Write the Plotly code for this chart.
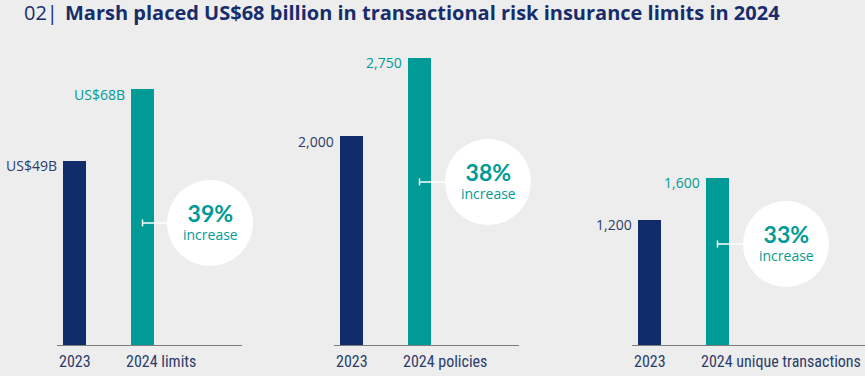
import plotly.graph_objects as go

# ---- data ----
panel_names = ["limits", "policies", "unique transactions"]
cat_2023 = ["2023", "2023", "2023"]
cat_2024 = ["2024 limits", "2024 policies", "2024 unique transactions"]
values_2023 = [49, 2000, 1200]
values_2024 = [68, 2750, 1600]
labels_2023 = ["US$49B", "2,000", "1,200"]
labels_2024 = ["US$68B", "2,750", "1,600"]
increase_pct = ["39%", "38%", "33%"]

# ---- style / layout ----
W, H = 865, 376
BG = "#ededed"
NAVY = "#112c6b"
TEAL = "#009b96"
TITLE_NAVY = "#172d6b"
LABEL_NAVY = "#2c3c6a"
AXIS_GRAY = "#7d7d7d"

BASE_Y = 345           # baseline pixel
TOP_Y = 40             # top of plot area pixel
PLOT_H = BASE_Y - TOP_Y
PX_PER_X = 68.0
LEFT_PAD = 17.5
BAR_W_PX = 23

panel_px = [(57, 242), (334, 519), (632, 865)]
px_per_y = [3.76, 0.1044, 0.1044]
circle_px = [(210, 223), (488, 182), (786, 244)]
R = 43

CAT_FONT = "Liberation Sans Narrow, Roboto Condensed, Roboto"

fig = go.Figure()
for i in range(3):
    ax = "" if i == 0 else str(i + 1)
    fig.add_trace(go.Bar(
        x=[0, 1], y=[values_2023[i], values_2024[i]],
        marker=dict(color=[NAVY, TEAL], line=dict(width=0)),
        width=BAR_W_PX / PX_PER_X,
        xaxis="x" + ax, yaxis="y" + ax,
        hoverinfo="skip", showlegend=False,
    ))
    x0p, x1p = panel_px[i]
    wpx = x1p - x0p
    fig.layout["xaxis" + ax] = dict(
        domain=[x0p / W, x1p / W],
        range=[-LEFT_PAD / PX_PER_X, (wpx - LEFT_PAD) / PX_PER_X],
        showline=True, linecolor=AXIS_GRAY, linewidth=1,
        showgrid=False, zeroline=False, showticklabels=False, ticks="",
        anchor="y" + ax, fixedrange=True,
    )
    fig.layout["yaxis" + ax] = dict(
        domain=[0, 1], range=[0, PLOT_H / px_per_y[i]],
        showline=False, showgrid=False, zeroline=False,
        showticklabels=False, ticks="", anchor="x" + ax, fixedrange=True,
    )
    xr, yr = "x" + ax, "y" + ax
    half = BAR_W_PX / PX_PER_X / 2
    # value labels
    fig.add_annotation(x=0 - half, y=values_2023[i], xref=xr, yref=yr,
                       text=labels_2023[i], showarrow=False, xanchor="right",
                       yanchor="middle", xshift=-4, yshift=-5,
                       font=dict(family="Open Sans", size=14, color=LABEL_NAVY))
    fig.add_annotation(x=1 - half, y=values_2024[i], xref=xr, yref=yr,
                       text=labels_2024[i], showarrow=False, xanchor="right",
                       yanchor="middle", xshift=-4, yshift=-5,
                       font=dict(family="Open Sans", size=14, color=TEAL))
    # category labels
    fig.add_annotation(x=0, y=0, xref=xr, yref=yr, text=cat_2023[i],
                       showarrow=False, xanchor="center", yanchor="middle",
                       yshift=-16,
                       font=dict(family=CAT_FONT, size=16, color=LABEL_NAVY))
    fig.add_annotation(x=1 - half, y=0, xref=xr, yref=yr, text=cat_2024[i],
                       showarrow=False, xanchor="left", yanchor="middle",
                       xshift=-7, yshift=-16,
                       font=dict(family=CAT_FONT, size=16, color=LABEL_NAVY))
    # circle (paper refs so it is not clipped) + bracket
    cpx, cpy = circle_px[i]
    cxp = cpx / W
    cyp = (BASE_Y - cpy) / PLOT_H
    fig.add_shape(type="circle", xref="paper", yref="paper", xsizemode="pixel",
                  ysizemode="pixel", xanchor=cxp, yanchor=cyp,
                  x0=-R, x1=R, y0=-R, y1=R,
                  fillcolor="white", line=dict(width=0), layer="above")
    yc = (BASE_Y - cpy) / px_per_y[i]
    cx_data = (cpx - x0p - LEFT_PAD) / PX_PER_X
    fig.add_shape(type="line", xref=xr, yref=yr, x0=1, x1=cx_data - R / PX_PER_X,
                  y0=yc, y1=yc, line=dict(color="white", width=1.5), layer="above")
    fig.add_shape(type="line", xref=xr, yref=yr, ysizemode="pixel", yanchor=yc,
                  x0=1, x1=1, y0=-3.5, y1=3.5,
                  line=dict(color="white", width=1.5), layer="above")
    fig.add_annotation(x=cxp, y=cyp, xref="paper", yref="paper",
                       text="<b><span style='font-size:23px;font-family:Lato'>"
                            + increase_pct[i] + "</span></b><br>increase",
                       showarrow=False, xanchor="center", yanchor="middle",
                       yshift=2, align="center",
                       font=dict(family="Open Sans", size=14, color=TEAL))

# title (paper y spans the plot area between TOP_Y and BASE_Y)
ty = (BASE_Y - 13) / PLOT_H
fig.add_annotation(x=22 / W, y=ty, xref="paper", yref="paper",
                   yanchor="middle", xanchor="left", showarrow=False,
                   text="02|", font=dict(family="Open Sans", size=20, color=TITLE_NAVY))
fig.add_annotation(x=63 / W, y=ty, xref="paper", yref="paper",
                   yanchor="middle", xanchor="left", showarrow=False,
                   text="<b>Marsh placed US$68 billion in transactional risk insurance limits in 2024</b>",
                   font=dict(family="Open Sans", size=20, color=TITLE_NAVY))

fig.update_layout(
    width=W, height=H,
    margin=dict(l=0, r=0, t=TOP_Y, b=H - BASE_Y, pad=0),
    paper_bgcolor=BG, plot_bgcolor=BG,
    bargap=0, showlegend=False,
)

fig.write_html("out.html", config={"displayModeBar": False},
               post_script="document.body.style.margin='0';document.body.style.background='#ededed';")
